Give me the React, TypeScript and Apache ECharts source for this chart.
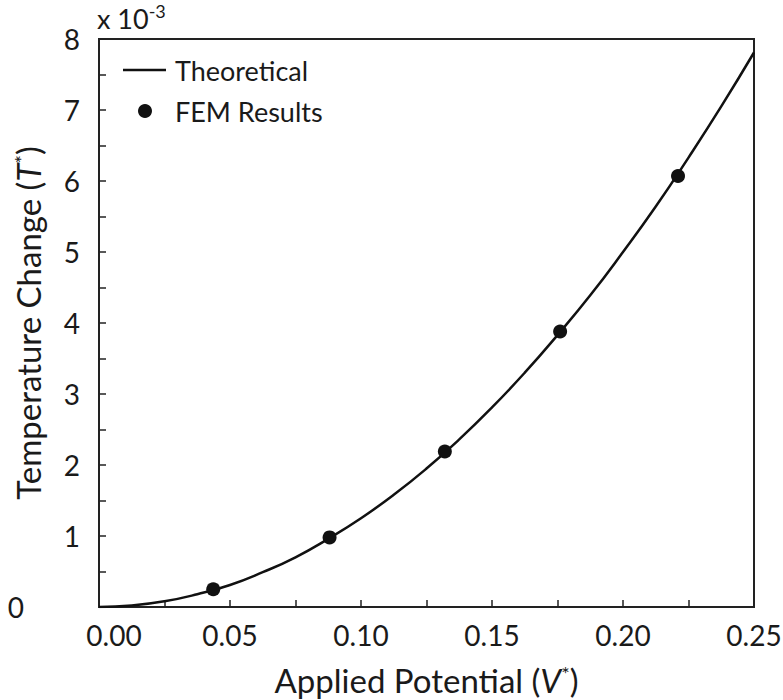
import React, { useEffect, useRef } from "react";
import * as echarts from "echarts";

// Theoretical curve (V*, T* in units of 1e-3)
const vTheory = [0, 0.0125, 0.025, 0.0375, 0.05, 0.0625, 0.075, 0.0875, 0.1, 0.1125, 0.125, 0.1375, 0.15, 0.1625, 0.175, 0.1875, 0.2, 0.2125, 0.225, 0.2375, 0.25];
const tTheory = [0, 0.02, 0.08, 0.18, 0.31, 0.49, 0.7, 0.96, 1.25, 1.58, 1.95, 2.36, 2.81, 3.3, 3.83, 4.39, 5.0, 5.64, 6.33, 7.05, 7.81];

// FEM results
const vFem = [0.0436, 0.088, 0.132, 0.176, 0.221];
const tFem = [0.25, 0.98, 2.19, 3.88, 6.07];

const legendNames = ["Theoretical", "FEM Results"];

const FONT = "Lato";
const INK = "#1a1a1a";

export default function App() {
  const ref = useRef<HTMLDivElement>(null);
  useEffect(() => {
    if (!ref.current) return;
    const chart = echarts.init(ref.current, null, { renderer: "svg" });
    chart.setOption({
      animation: false,
      backgroundColor: "#ffffff",
      textStyle: { fontFamily: FONT, color: INK },
      grid: {
        left: 99,
        right: 29,
        top: 39,
        bottom: 93,
        show: true,
        borderColor: "#222",
        borderWidth: 2,
        backgroundColor: "transparent",
        outerBoundsMode: "none",
        containLabel: false,
      },
      graphic: [
        {
          type: "text",
          left: 97,
          top: 2,
          style: {
            text: "{a|x 10}{s|-3}",
            rich: {
              a: { fontFamily: FONT, fontSize: 27, fill: INK, verticalAlign: "bottom" },
              s: { fontFamily: FONT, fontSize: 18, fill: INK, verticalAlign: "top", padding: [0, 0, 12, 0] },
            },
          },
        },
        // legend
        {
          type: "line",
          shape: { x1: 123, y1: 70, x2: 166, y2: 70 },
          style: { stroke: "#111", lineWidth: 2.5 },
        },
        {
          type: "circle",
          shape: { cx: 145, cy: 111, r: 7 },
          style: { fill: "#111" },
        },
        {
          type: "text",
          x: 175,
          y: 70,
          style: { text: legendNames[0], fontFamily: FONT, fontSize: 27, fill: INK, verticalAlign: "middle" },
        },
        {
          type: "text",
          x: 175,
          y: 111,
          style: { text: legendNames[1], fontFamily: FONT, fontSize: 27, fill: INK, verticalAlign: "middle" },
        },
      ],
      xAxis: {
        type: "value",
        min: 0,
        max: 0.25,
        interval: 0.025,
        name: "Applied Potential ({i|V}{s|*})",
        nameLocation: "middle",
        nameGap: 56,
        nameMoveOverlap: false,
        nameTextStyle: {
          fontFamily: FONT,
          fontSize: 33,
          color: INK,
          rich: {
            i: { fontFamily: FONT, fontSize: 33, fontStyle: "italic", color: INK },
            s: { fontFamily: FONT, fontSize: 20, color: INK, padding: [0, 0, 14, 0] },
          },
        },
        splitLine: { show: false },
        axisLine: { show: true, lineStyle: { color: "#222", width: 2 } },
        axisTick: { show: true, inside: true, length: 7, lineStyle: { color: "#222", width: 1.5 } },
        axisLabel: {
          margin: 14,
          fontFamily: FONT,
          fontSize: 28,
          color: INK,
          interval: 0,
          hideOverlap: false,
          showMinLabel: true,
          showMaxLabel: true,
          formatter: (v: number) => {
            const k = v / 0.05;
            if (Math.abs(k - Math.round(k)) > 1e-6) return "";
            if (Math.abs(v) < 1e-9) return "{f|0.00}";
            return v.toFixed(2);
          },
          rich: {
            f: { fontFamily: FONT, fontSize: 28, color: INK, padding: [0, 0, 0, 30] },
          },
        },
      },
      yAxis: {
        type: "value",
        min: 0,
        max: 8,
        interval: 0.5,
        name: "Temperature Change ({i|T}{s|*})",
        nameLocation: "middle",
        nameGap: 54,
        nameMoveOverlap: false,
        nameTextStyle: {
          fontFamily: FONT,
          fontSize: 33,
          color: INK,
          rich: {
            i: { fontFamily: FONT, fontSize: 33, fontStyle: "italic", color: INK },
            s: { fontFamily: FONT, fontSize: 20, color: INK, padding: [0, 0, 14, 0] },
          },
        },
        splitLine: { show: false },
        axisLine: { show: true, lineStyle: { color: "#222", width: 2 } },
        axisTick: { show: true, inside: true, length: 7, lineStyle: { color: "#222", width: 1.5 } },
        axisLabel: {
          margin: 19,
          fontFamily: FONT,
          fontSize: 28,
          color: INK,
          interval: 0,
          formatter: (v: number) => {
            if (Math.abs(v - Math.round(v)) > 1e-6) return "";
            if (Math.abs(v) < 1e-9) return "{z|0}";
            return String(Math.round(v));
          },
          rich: {
            z: { fontFamily: FONT, fontSize: 28, color: INK, padding: [0, 56, 0, 0] },
          },
        },
      },
      series: [
        {
          name: "Theoretical",
          type: "line",
          smooth: true,
          symbol: "none",
          data: vTheory.map((v, i) => [v, tTheory[i]]),
          lineStyle: { color: "#111", width: 2.5 },
          itemStyle: { color: "#111" },
          z: 2,
        },
        {
          name: "FEM Results",
          type: "scatter",
          symbol: "circle",
          symbolSize: 14,
          data: vFem.map((v, i) => [v, tFem[i]]),
          itemStyle: { color: "#111", opacity: 1 },
          z: 3,
        },
      ],
    });
    return () => chart.dispose();
  }, []);
  return (
    <div
      ref={ref}
      style={{ position: "absolute", left: 0, top: 0, width: 783, height: 700 }}
    />
  );
}
